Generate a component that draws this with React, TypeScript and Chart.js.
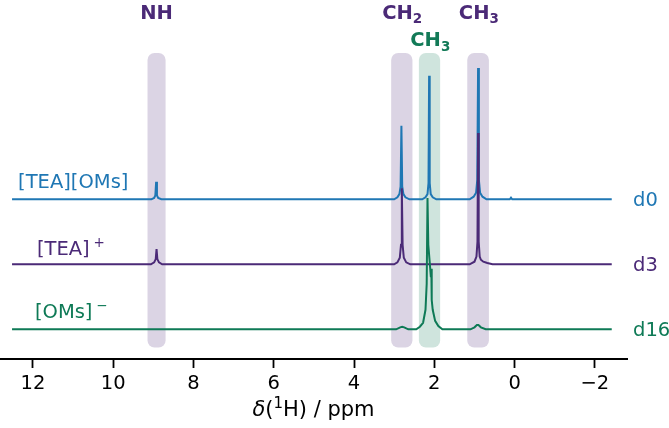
import React, { useEffect, useRef } from 'react';
import { Chart, registerables } from 'chart.js';

Chart.register(...registerables);

const FONT = '"DejaVu Sans", "Liberation Sans", sans-serif';

// ---------- data: [δ / ppm, intensity above the trace's own baseline] ----------
const d0Spectrum: [number, number][] = [
  [12.52, 0],
  [9.05, 0], [8.98, 0.02], [8.95, 0.06], [8.93, 0.27], [8.91, 0.06], [8.88, 0.02], [8.8, 0],
  [3.0, 0], [2.92, 0.03], [2.87, 0.08], [2.84, 0.2], [2.82, 1.13], [2.8, 0.2], [2.77, 0.08], [2.72, 0.03], [2.62, 0],
  [2.3, 0], [2.22, 0.03], [2.17, 0.08], [2.145, 0.25], [2.13, 1.9], [2.115, 0.25], [2.09, 0.08], [2.04, 0.03], [1.95, 0],
  [1.12, 0], [1.02, 0.04], [0.96, 0.1], [0.93, 0.3], [0.91, 2.02], [0.89, 0.3], [0.86, 0.1], [0.8, 0.04], [0.7, 0],
  [0.12, 0], [0.09, 0.025], [0.06, 0],
  [-2.42, 0],
];
const d3Spectrum: [number, number][] = [
  [12.52, 0],
  [9.06, 0], [8.98, 0.03], [8.94, 0.08], [8.92, 0.235], [8.9, 0.08], [8.86, 0.03], [8.78, 0],
  [3.0, 0], [2.92, 0.03], [2.86, 0.1], [2.83, 0.3], [2.81, 1.17], [2.79, 0.3], [2.76, 0.1], [2.7, 0.03], [2.6, 0],
  [1.12, 0], [1.0, 0.04], [0.95, 0.12], [0.925, 0.35], [0.91, 2.02], [0.895, 0.35], [0.87, 0.12], [0.84, 0.07], [0.78, 0.04], [0.68, 0.02], [0.55, 0],
  [-2.42, 0],
];
const d16Spectrum: [number, number][] = [
  [12.52, 0],
  [2.95, 0], [2.85, 0.03], [2.8, 0.04], [2.75, 0.03], [2.65, 0],
  [2.45, 0], [2.36, 0.04], [2.28, 0.1], [2.22, 0.3], [2.19, 0.7], [2.17, 2.02], [2.15, 1.3], [2.12, 1.07], [2.085, 0.8],
  [2.075, 0.93], [2.065, 0.45], [2.04, 0.3], [1.98, 0.13], [1.9, 0.05], [1.8, 0],
  [1.1, 0], [1.0, 0.03], [0.94, 0.065], [0.9, 0.065], [0.84, 0.03], [0.72, 0],
  [-2.42, 0],
];

const seriesNames = ['d0', 'd3', 'd16'];
const seriesLabels = ['[TEA][OMs]', '[TEA]', '[OMs]'];
const seriesCharges = ['', '+', '\u2212'];
const seriesOffsets = [2, 1, 0];
const seriesLabelPpm = [12.37, 11.9, 11.95];
const seriesLabelLift = [0.17, 0.145, 0.175];

const bandCenters = [8.92, 2.81, 2.12, 0.91];
const bandWidths = [0.45, 0.53, 0.53, 0.54];
const bandGroups = [0, 0, 1, 0]; // 0 = cation (purple), 1 = anion (green)

const groupLabels = ['NH', 'CH', 'CH', 'CH'];
const groupSubs = ['', '2', '3', '3'];
const groupLabelPpm = [8.92, 2.8, 2.1, 0.89];
const groupLabelLevel = [4.774, 4.774, 4.358, 4.774];

const xTicks = [12, 10, 8, 6, 4, 2, 0, -2];

// ---------- styles ----------
const COLORS = ['#1f77b4', '#4b2a77', '#0e7a56'];
const GROUP_TEXT = ['#4b2a77', '#127a57'];
const BAND_FILL = ['rgba(75,42,119,0.2)', 'rgba(14,122,86,0.2)'];
const X_MIN = -2.8;
const X_MAX = 12.82;
const Y_MIN = -0.457;
const Y_MAX = 5.066;
const BAND_TOP = 4.25;
const BAND_BOTTOM = -0.28;

type Run = { t: string; size: number; weight?: string; style?: string; dy?: number };

function drawRuns(ctx: CanvasRenderingContext2D, runs: Run[], x: number, y: number, align: 'left' | 'center', color: string) {
  const fontOf = (r: Run) => `${r.style || 'normal'} ${r.weight || 'normal'} ${r.size}px ${FONT}`;
  const widths = runs.map((r) => {
    ctx.font = fontOf(r);
    return ctx.measureText(r.t).width;
  });
  const total = widths.reduce((a, b) => a + b, 0);
  let cx = align === 'center' ? x - total / 2 : x;
  ctx.fillStyle = color;
  ctx.textAlign = 'left';
  ctx.textBaseline = 'alphabetic';
  runs.forEach((r, i) => {
    ctx.font = fontOf(r);
    ctx.fillText(r.t, cx, y + (r.dy || 0));
    cx += widths[i];
  });
}

const annotPlugin = {
  id: 'annot',
  beforeDatasetsDraw(chart: any) {
    const { ctx } = chart;
    const xs = chart.scales.x;
    const ys = chart.scales.y;
    ctx.save();
    bandCenters.forEach((c, i) => {
      const xl = xs.getPixelForValue(c + bandWidths[i] / 2);
      const xr = xs.getPixelForValue(c - bandWidths[i] / 2);
      const yt = ys.getPixelForValue(BAND_TOP);
      const yb = ys.getPixelForValue(BAND_BOTTOM);
      ctx.fillStyle = BAND_FILL[bandGroups[i]];
      ctx.beginPath();
      (ctx as any).roundRect(xl, yt, xr - xl, yb - yt, 7);
      ctx.fill();
    });
    ctx.restore();
  },
  afterDraw(chart: any) {
    const { ctx, chartArea } = chart;
    const xs = chart.scales.x;
    const ys = chart.scales.y;
    ctx.save();
    // group labels on top
    groupLabels.forEach((g, i) => {
      const runs: Run[] = [{ t: g, size: 19.5, weight: 'bold' }];
      if (groupSubs[i]) runs.push({ t: groupSubs[i], size: 13.5, weight: 'bold', dy: 4.5 });
      drawRuns(ctx, runs, xs.getPixelForValue(groupLabelPpm[i]), ys.getPixelForValue(groupLabelLevel[i]), 'center', GROUP_TEXT[bandGroups[i]]);
    });
    // series labels
    seriesLabels.forEach((s, i) => {
      const runs: Run[] = [{ t: s, size: 19.5 }];
      if (seriesCharges[i]) {
        runs.push({ t: ' ', size: 12 });
        runs.push({ t: seriesCharges[i], size: 13.5, dy: -8 });
      }
      drawRuns(ctx, runs, xs.getPixelForValue(seriesLabelPpm[i]), ys.getPixelForValue(seriesOffsets[i] + seriesLabelLift[i]), 'left', COLORS[i]);
      drawRuns(ctx, [{ t: seriesNames[i], size: 19.5 }], chartArea.right + 6, ys.getPixelForValue(seriesOffsets[i]) + 6.5, 'left', COLORS[i]);
    });
    // axis title
    drawRuns(
      ctx,
      [
        { t: '\u03B4', size: 21, style: 'italic' },
        { t: '(', size: 21 },
        { t: '1', size: 15, dy: -8 },
        { t: 'H) / ppm', size: 21 },
      ],
      (chartArea.left + chartArea.right) / 2,
      416,
      'center',
      '#000'
    );
    ctx.restore();
  },
};

export default function App() {
  const ref = useRef<HTMLCanvasElement | null>(null);
  useEffect(() => {
    document.body.style.margin = '0';
    const canvas = ref.current;
    if (!canvas) return;
    const spectra = [d0Spectrum, d3Spectrum, d16Spectrum];
    const chart = new Chart(canvas, {
      type: 'line',
      data: {
        datasets: spectra.map((sp, i) => ({
          label: seriesNames[i],
          data: sp.map(([x, y]) => ({ x, y: y + seriesOffsets[i] })),
          borderColor: COLORS[i],
          borderWidth: 2,
          pointRadius: 0,
          tension: 0,
          fill: false,
          order: i === 0 ? 2 : i === 1 ? 1 : 0,
        })),
      },
      options: {
        animation: false,
        responsive: false,
        devicePixelRatio: 1,
        layout: { padding: { left: 0, right: 42, top: 0, bottom: 0 } },
        plugins: { legend: { display: false }, tooltip: { enabled: false } },
        scales: {
          x: {
            type: 'linear',
            reverse: true,
            min: X_MIN,
            max: X_MAX,
            afterBuildTicks: (s: any) => {
              s.ticks = xTicks.map((v) => ({ value: v }));
            },
            afterFit: (s: any) => {
              s.height = 69;
            },
            grid: { display: true, drawOnChartArea: false, drawTicks: true, tickLength: 9, tickWidth: 1.8, tickColor: '#000' },
            border: { display: true, color: '#000', width: 2 },
            ticks: {
              color: '#000',
              padding: 4,
              font: { family: FONT, size: 19.5 },
              maxRotation: 0,
              autoSkip: false,
              callback: (v: any) => (Number(v) < 0 ? '\u2212' + Math.abs(Number(v)) : String(v)),
            },
          },
          y: { type: 'linear', display: false, min: Y_MIN, max: Y_MAX },
        },
      },
      plugins: [annotPlugin],
    } as any);
    return () => chart.destroy();
  }, []);
  return (
    <div style={{ position: 'absolute', left: 0, top: 0, width: 669, height: 428 }}>
      <canvas ref={ref} width={669} height={428} style={{ width: 669, height: 428, display: 'block' }} />
    </div>
  );
}
